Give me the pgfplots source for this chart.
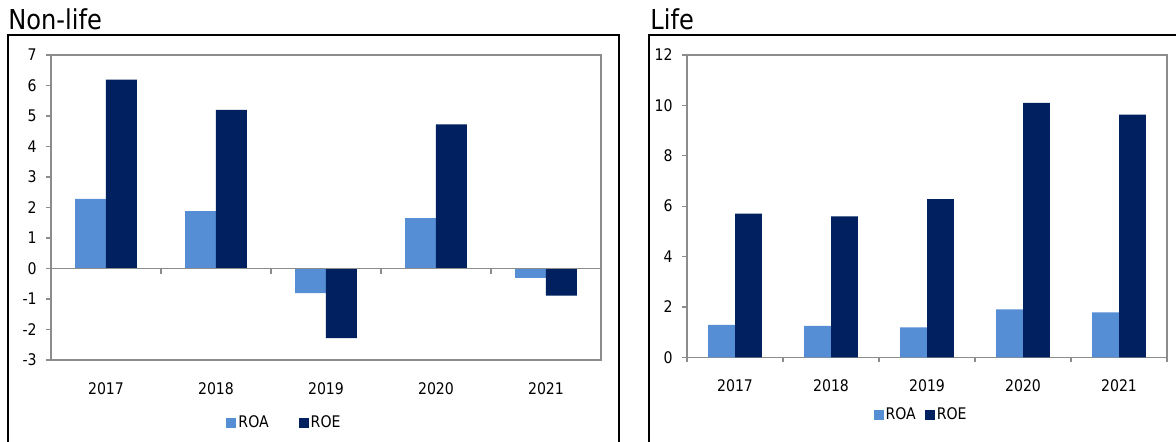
\documentclass[border=0pt]{standalone}
\usepackage{pgfplots}
\pgfplotsset{compat=1.18}
\usetikzlibrary{calc}
\usepackage{fontspec}
\setmainfont{DejaVu Sans}[FakeStretch=0.88]
\definecolor{roa}{RGB}{85,142,213}
\definecolor{roe}{RGB}{0,32,96}
\definecolor{axgray}{RGB}{140,140,140}
\pgfplotsset{
  panel/.style={
    scale only axis,
    clip=false,
    anchor=south west,
    xmin=-0.5, xmax=4.5,
    xtick={0,1,2,3,4},
    xticklabels={2017,2018,2019,2020,2021},
    major x tick style={draw=none},
    ytick pos=left,
    tick align=outside,
    major tick length=2.5pt,
    every tick/.style={axgray, line width=0.6pt},
    axis line style={axgray, line width=0.7pt},
    tick label style={font=\fontsize{8}{9.6}\selectfont, text=black},
    /pgf/number format/assume math mode=true,
    yticklabel style={inner sep=0pt, xshift=-4.5pt},
    xticklabel style={inner sep=0pt, anchor=north, yshift=-8.5pt},
    ybar=0pt, bar width=0.28,
    legend columns=2,
    legend style={draw=none, fill=none, anchor=center,
      font=\fontsize{8}{9.6}\selectfont,
      nodes={inner sep=1pt, anchor=west}},
    legend image code/.code={\fill[##1] (0pt,-2.5pt) rectangle (5pt,2.5pt);},
  }
}
\begin{document}
\begin{tikzpicture}
\path[use as bounding box] (0,0) rectangle (588pt,-220.5pt);
% outer frames
\draw[line width=1pt] (4pt,-240pt) -- (4pt,-17.5pt) -- (309.5pt,-17.5pt) -- (309.5pt,-240pt);
\draw[line width=1pt] (324.5pt,-240pt) -- (324.5pt,-17.5pt) -- (600pt,-17.5pt);
\node[anchor=base west, inner sep=0pt, font=\fontsize{13.7}{16}\selectfont] at (4pt,-14.5pt) {Non-life};
\node[anchor=base west, inner sep=0pt, font=\fontsize{13.7}{16}\selectfont] at (325pt,-14.5pt) {Life};

\begin{axis}[panel,
  at={(25.5pt,-180pt)}, width=275pt, height=152.5pt,
  ymin=-3, ymax=7, ytick={-3,-2,...,7},
  legend style={at={(0.4245,-0.2066)}, /tikz/every even column/.append style={column sep=14pt}},
]
\addplot[fill=roa, draw=none] coordinates {(0,2.28) (1,1.88) (2,-0.81) (3,1.65) (4,-0.31)};
\addplot[fill=roe, draw=none] coordinates {(0,6.19) (1,5.20) (2,-2.28) (3,4.73) (4,-0.89)};
\legend{ROA,ROE}
\draw[axgray, line width=0.7pt] (axis cs:-0.5,0) -- (axis cs:4.5,0);
\pgfplotsinvokeforeach{-0.5,0.5,1.5,2.5,3.5,4.5}{
  \draw[axgray, line width=0.6pt] (axis cs:#1,0) -- ([yshift=-2.5pt]axis cs:#1,0);
}
\end{axis}

\begin{axis}[panel, name=life,
  at={(343.5pt,-178.65pt)}, width=240pt, height=151.15pt,
  ymin=0, ymax=12, ytick={0,2,...,12},
  legend style={at={(0.4875,-0.191)}, /tikz/every even column/.append style={column sep=3.5pt}},
]
\addplot[fill=roa, draw=none] coordinates {(0,1.29) (1,1.25) (2,1.19) (3,1.90) (4,1.78)};
\addplot[fill=roe, draw=none] coordinates {(0,5.70) (1,5.59) (2,6.28) (3,10.10) (4,9.63)};
\legend{ROA,ROE}
\end{axis}
\foreach \f in {0,0.2,0.4,0.6,0.8,1}{
  \draw[axgray, line width=0.6pt] ($(life.south west)!\f!(life.south east)$) -- ++(0,-2.5pt);
}
\end{tikzpicture}
\end{document}
